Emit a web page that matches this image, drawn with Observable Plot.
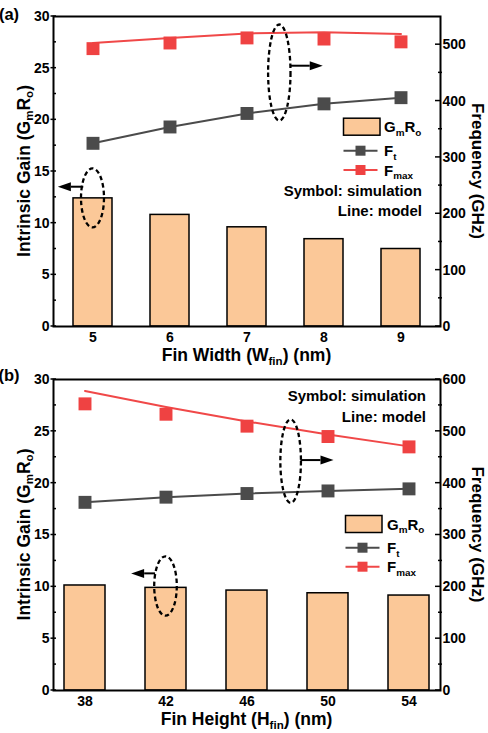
<!DOCTYPE html>
<html><head><meta charset="utf-8">
<script src="https://cdn.jsdelivr.net/npm/d3@7"></script>
<script src="https://cdn.jsdelivr.net/npm/@observablehq/plot@0.6"></script>
<style>
body{margin:0;background:#fff;}
#chart{width:488px;}
#chart svg{display:block;overflow:visible;}
</style>
</head><body><div id="chart"></div>
<script>
// ---------- Panel (a): Fin width sweep ----------
const widthCats   = [5, 6, 7, 8, 9];
const gainA       = [12.4, 10.8, 9.6, 8.45, 7.5];
const ftSimA      = [325, 354, 378, 395, 406];
const ftModelA    = [325, 354, 378, 395, 406];
const fmaxSimA    = [493, 503, 512, 510, 505];
const fmaxModelA  = [503, 512, 520, 522, 519];
const freqTicksA  = [0, 100, 200, 300, 400, 500];

// ---------- Panel (b): Fin height sweep ----------
const heightCats  = [38, 42, 46, 50, 54];
const gainB       = [10.13, 9.9, 9.64, 9.38, 9.16];
const ftSimB      = [363, 373, 380, 385, 389];
const ftModelB    = [363, 373, 380, 385, 389];
const fmaxSimB    = [553, 533, 510, 490, 470];
const fmaxModelB  = [578, 547, 519, 494, 471];
const freqTicksB  = [0, 100, 200, 300, 400, 500, 600];

const gainTicks   = [0, 5, 10, 15, 20, 25, 30];
const gainMinor   = [2.5, 7.5, 12.5, 17.5, 22.5, 27.5];

const FONT = "'Liberation Sans', Arial, Helvetica, sans-serif";
const BAR = "#fbc898", GRAY = "#4b4b4b", RED = "#ef4242", REDLINE = "#f04848";

function richText(g, str, {x, y, fs, anchor = "start", rotate = 0}) {
  const t = g.append("text").attr("font-size", fs).attr("text-anchor", anchor)
    .attr("transform", `translate(${x},${y}) rotate(${rotate})`);
  const parts = str.split(/(_\{[^}]*\})/);
  let shifted = false;
  for (const p of parts) {
    if (!p) continue;
    const m = p.match(/^_\{([^}]*)\}$/);
    if (m) {
      t.append("tspan").attr("font-size", fs * 0.66).attr("dy", fs * 0.22).text(m[1]);
      shifted = true;
    } else {
      const ts = t.append("tspan").text(p);
      if (shifted) { ts.attr("dy", -fs * 0.22); shifted = false; }
    }
  }
  return t;
}

function decor(cfg) {
  return (index, scales, values, dims) => {
    const {x, y} = scales;
    const bw = x.bandwidth(), step = x.step();
    const c0 = x(x.domain()[0]) + bw / 2;
    const px = (p) => c0 + p * step;
    const k = cfg.k;
    const L = dims.marginLeft, R = dims.width - dims.marginRight;
    const T = dims.marginTop, B = dims.height - dims.marginBottom;
    const g = d3.create("svg:g").attr("font-family", FONT).attr("font-weight", "bold").attr("fill", "black");
    // left ticks
    for (const v of gainTicks) g.append("line").attr("x1", L - 2.5).attr("x2", L + 3).attr("y1", y(v)).attr("y2", y(v)).attr("stroke", "black").attr("stroke-width", 1.5);
    for (const v of gainMinor) g.append("line").attr("x1", L).attr("x2", L + 3).attr("y1", y(v)).attr("y2", y(v)).attr("stroke", "black").attr("stroke-width", 1.5);
    // right ticks
    for (const v of cfg.freqTicks) g.append("line").attr("x1", R - 5).attr("x2", R).attr("y1", y(v * k)).attr("y2", y(v * k)).attr("stroke", "black").attr("stroke-width", 1.5);
    for (const v of cfg.freqTicks.slice(0, -1)) if (y((v + 50) * k) >= T) g.append("line").attr("x1", R - 2).attr("x2", R + 2).attr("y1", y((v + 50) * k)).attr("y2", y((v + 50) * k)).attr("stroke", "black").attr("stroke-width", 1.5);

    // panel letter
    g.append("text").attr("x", 9).attr("y", cfg.letterY).attr("font-size", 16.5).text(cfg.letter);
    // axis titles
    richText(g, "Intrinsic Gain (G_{m}R_{o})", {x: 29.5, y: (T + B) / 2, fs: 17.5, anchor: "middle", rotate: -90});
    richText(g, "Frequency (GHz)", {x: 471.5, y: (T + B) / 2, fs: 17, anchor: "middle", rotate: 90});
    richText(g, cfg.xLabel, {x: (L + R) / 2, y: cfg.xLabelY, fs: 17.5, anchor: "middle"});

    // legend
    const lg = cfg.legend;
    g.append("rect").attr("x", lg.x).attr("y", lg.y0 - 8.5).attr("width", 36.5).attr("height", 17)
      .attr("fill", BAR).attr("stroke", "black").attr("stroke-width", 1.5);
    richText(g, "G_{m}R_{o}", {x: lg.tx, y: lg.y0 + 5.5, fs: 15});
    const rows = [[lg.y1, GRAY, GRAY, "F_{t}"], [lg.y2, REDLINE, RED, "F_{max}"]];
    for (const [yy, lc, mc, lab] of rows) {
      g.append("line").attr("x1", lg.x).attr("x2", lg.x + 34).attr("y1", yy).attr("y2", yy).attr("stroke", lc).attr("stroke-width", 2);
      g.append("rect").attr("x", lg.x + 12).attr("y", yy - 5).attr("width", 10).attr("height", 10).attr("fill", mc);
      richText(g, lab, {x: lg.tx, y: yy + 5.5, fs: 15});
    }
    g.append("text").attr("x", cfg.noteX).attr("y", cfg.noteY1).attr("font-size", 15).attr("text-anchor", "end").text("Symbol: simulation");
    g.append("text").attr("x", cfg.noteX).attr("y", cfg.noteY2).attr("font-size", 15).attr("text-anchor", "end").text("Line: model");

    // annotations (dashed ellipses and arrows), positions in data units
    for (const a of cfg.ann) {
      if (a.type === "ellipse") {
        g.append("ellipse").attr("cx", px(a.p)).attr("cy", y(a.v)).attr("rx", a.rx).attr("ry", a.ry)
          .attr("fill", "none").attr("stroke", "black").attr("stroke-width", 2.3).attr("stroke-dasharray", "4.5 3");
      } else {
        const x1 = px(a.p1), x2 = px(a.p2), yy = y(a.v);
        const dir = Math.sign(x2 - x1), hl = 13, hw = 4.5;
        g.append("line").attr("x1", x1).attr("x2", x2 - dir * hl).attr("y1", yy).attr("y2", yy).attr("stroke", "black").attr("stroke-width", 2);
        g.append("path").attr("d", `M${x2},${yy}L${x2 - dir * hl},${yy - hw}L${x2 - dir * hl},${yy + hw}Z`).attr("fill", "black");
      }
    }
    return g.node();
  };
}

function panel(cfg) {
  const k = 30 / cfg.freqMax;
  const rows = cfg.cats.map((c, i) => ({
    c, gain: cfg.gain[i],
    ftS: cfg.ftSim[i] * k, ftM: cfg.ftModel[i] * k,
    fmS: cfg.fmaxSim[i] * k, fmM: cfg.fmaxModel[i] * k
  }));
  return Plot.plot({
    width: 488, height: cfg.height,
    marginTop: 16, marginLeft: 53, marginRight: 48, marginBottom: cfg.marginBottom,
    style: {fontFamily: FONT, fontSize: "14px", fontWeight: "bold", color: "black", background: "white"},
    x: {type: "band", domain: cfg.cats, paddingInner: cfg.pi, paddingOuter: cfg.po, align: 0.5},
    y: {domain: [0, 30]},
    marks: [
      Plot.barY(rows, {x: "c", y: "gain", fill: BAR, stroke: "black", strokeWidth: 1.5}),
      Plot.line(rows, {x: "c", y: "ftM", stroke: GRAY, strokeWidth: 2}),
      Plot.dot(rows, {x: "c", y: "ftS", symbol: "square", r: 7.3, fill: GRAY, stroke: "none"}),
      Plot.line(rows, {x: "c", y: "fmM", stroke: REDLINE, strokeWidth: 2}),
      Plot.dot(rows, {x: "c", y: "fmS", symbol: "square", r: 7.3, fill: RED, stroke: "none"}),
      Plot.axisX({tickSize: 0, tickPadding: 6, label: null, fontSize: 14, fontWeight: "bold"}),
      Plot.axisY(gainTicks, {anchor: "left", tickSize: 0, tickPadding: 4, label: null, fontSize: 14, fontWeight: "bold"}),
      Plot.axisY(cfg.freqTicks.map(v => v * k), {anchor: "right", tickSize: 0, tickPadding: 2, label: null,
        tickFormat: d => String(Math.round(d / k)), fontSize: 14, fontWeight: "bold"}),
      Plot.frame({stroke: "black", strokeWidth: 2}),
      decor({...cfg, k})
    ]
  });
}

const chart = document.getElementById("chart");
chart.append(panel({
  cats: widthCats, gain: gainA, ftSim: ftSimA, ftModel: ftModelA, fmaxSim: fmaxSimA, fmaxModel: fmaxModelA,
  freqMax: 550, freqTicks: freqTicksA, height: 363, marginBottom: 37, pi: 0.5, po: 0.25,
  letter: "(a)", letterY: 20, xLabel: "Fin Width (W_{fin}) (nm)", xLabelY: 361,
  legend: {x: 343.5, tx: 384, y0: 126.7, y1: 150.7, y2: 170},
  noteX: 422, noteY1: 196, noteY2: 216,
  ann: [
    {type: "ellipse", p: 0, v: 12.4, rx: 11.5, ry: 29.5},
    {type: "arrow", p1: -0.12, p2: -0.45, v: 13.48},
    {type: "ellipse", p: 2.426, v: 24.53, rx: 11.2, ry: 48},
    {type: "arrow", p1: 2.571, p2: 2.99, v: 25.19}
  ]
}));
chart.append(panel({
  cats: heightCats, gain: gainB, ftSim: ftSimB, ftModel: ftModelB, fmaxSim: fmaxSimB, fmaxModel: fmaxModelB,
  freqMax: 600, freqTicks: freqTicksB, height: 370, marginBottom: 43, pi: 0.49, po: 0.125,
  letter: "(b)", letterY: 18, xLabel: "Fin Height (H_{fin}) (nm)", xLabelY: 362,
  legend: {x: 345.5, tx: 387, y0: 161, y1: 184.7, y2: 203.7},
  noteX: 426, noteY1: 37.7, noteY2: 59.3,
  ann: [
    {type: "ellipse", p: 1, v: 10.03, rx: 11.3, ry: 29.7},
    {type: "arrow", p1: 0.871, p2: 0.576, v: 11.25},
    {type: "ellipse", p: 2.545, v: 22.08, rx: 10.3, ry: 41.7},
    {type: "arrow", p1: 2.665, p2: 3.074, v: 22.18}
  ]
}));
</script>
</body></html>
